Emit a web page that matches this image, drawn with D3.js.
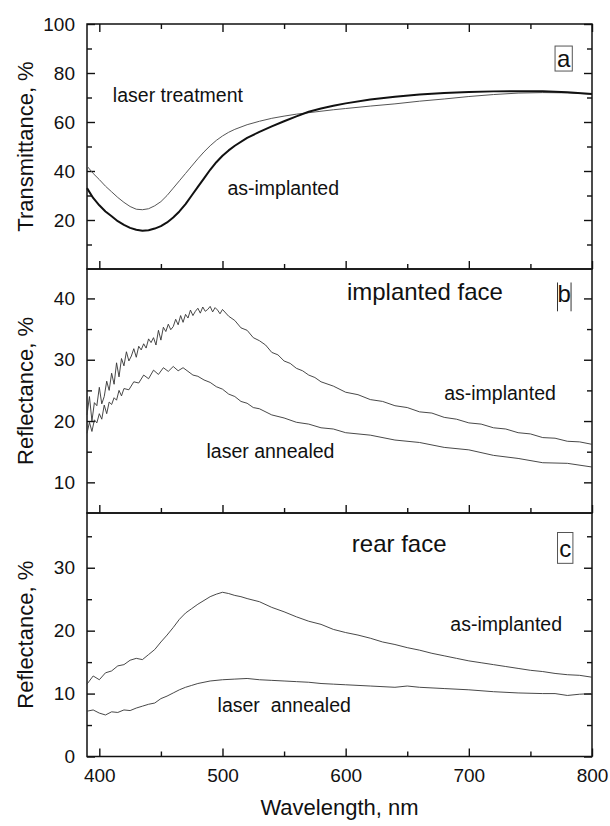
<!DOCTYPE html>
<html>
<head>
<meta charset="utf-8">
<script src="https://cdn.jsdelivr.net/npm/d3@7"></script>
<style>
  body { margin: 0; background: #fff; }
  svg text { font-family: "Liberation Sans", Arial, sans-serif; fill: #111; }
</style>
</head>
<body>
<script>
// ---- data ----
// panel a, transmittance
var wlA = [390, 395, 400, 405, 410, 415, 420, 425, 430, 435, 440, 445, 450, 455, 460, 465, 470, 475, 480, 485, 490, 495, 500, 505, 510, 520, 530, 540, 550, 560, 570, 580, 590, 600, 620, 640, 660, 680, 700, 720, 740, 760, 780, 800];
var tAsImpl = [33, 29, 26, 23.5, 21.5, 19.5, 18, 16.8, 16, 15.6, 15.8, 16.5, 17.5, 19, 21, 23.5, 26.5, 30, 33.5, 37, 40.5, 43.6, 46.2, 48.4, 50.3, 53.5, 56, 58.2, 60.3, 62.3, 64.2, 65.5, 66.6, 67.6, 69.2, 70.3, 71.2, 71.8, 72.2, 72.5, 72.6, 72.6, 72.1, 71.4];
var tLaser = [42, 39, 36.5, 33.8, 31.5, 29.2, 27.2, 25.5, 24.4, 24.2, 24.6, 25.8, 27.5, 30, 33, 36, 39, 42, 45, 47.8, 50.3, 52.5, 54.3, 55.8, 57, 58.9, 60.3, 61.5, 62.4, 63.2, 63.8, 64.4, 65, 65.5, 66.5, 67.4, 68.5, 69.4, 70.4, 71.2, 71.8, 72, 71.9, 71.4];

// panel b, reflectance of the implanted face
var wlB1 = [390, 392, 394, 396, 398, 400, 402, 404, 406, 408, 410, 412, 414, 416, 418, 420, 422, 424, 426, 428, 430, 432, 434, 436, 438, 440, 442, 444, 446, 448, 450, 452, 454, 456, 458, 460, 462, 464, 466, 468, 470, 472, 474, 476, 478, 480, 482, 484, 486, 488, 490, 492, 494, 496, 498, 500, 505, 510, 515, 520, 525, 530, 535, 540, 545, 550, 555, 560, 565, 570, 575, 580, 590, 600, 610, 620, 630, 640, 650, 660, 670, 680, 690, 700, 710, 720, 730, 740, 750, 760, 770, 780, 790, 800];
var rAsImplB = [21, 24, 20, 23, 22.5, 25.5, 22.8, 24, 26.5, 25, 27.8, 26, 29.5, 27.2, 30.2, 29, 31.3, 29.8, 30.6, 31.8, 30.4, 32.2, 31.6, 32.6, 31.9, 33.4, 32.8, 33.6, 32.4, 34.8, 33.2, 35.3, 34.6, 35.8, 34.9, 35.4, 36.6, 35.7, 37.2, 36.1, 37.4, 36.8, 38.1, 37.2, 37.9, 38.4, 37.6, 38.6, 37.9, 38.2, 38.7, 37.8, 38.5, 38.1, 37.5, 38.2, 37.1, 36.4, 35.2, 34.8, 33.6, 33.1, 32.4, 31.2, 30.8, 29.8, 29.4, 28.6, 28.2, 27.5, 27.1, 26.4, 25.7, 24.7, 24.3, 23.5, 23.2, 22.5, 22.2, 21.5, 21.3, 20.6, 20.3, 19.7, 19.5, 18.9, 18.7, 18.1, 17.9, 17.3, 17.2, 16.7, 16.6, 16.2];
var wlB2 = [390, 392, 394, 396, 398, 400, 402, 404, 406, 408, 410, 412, 414, 416, 418, 420, 424, 428, 432, 436, 440, 444, 448, 452, 456, 460, 464, 468, 472, 476, 480, 485, 490, 495, 500, 505, 510, 515, 520, 525, 530, 540, 550, 560, 570, 580, 590, 600, 620, 640, 660, 680, 700, 720, 740, 760, 780, 800];
var rLaserB = [18, 19.8, 18.3, 20.2, 19.7, 21.2, 20.3, 22.6, 21.2, 23.1, 22.7, 23.8, 23.4, 25, 24.1, 25.3, 25.1, 26.4, 26.2, 27.5, 26.9, 28.3, 27.6, 28.7, 28.1, 28.9, 28.2, 28.7, 28.1, 27.5, 27.3, 26.7, 26.3, 25.6, 25.2, 24.4, 24, 23.2, 22.9, 22.2, 22, 21, 20.5, 19.8, 19.5, 18.9, 18.7, 18.1, 17.7, 16.9, 16.5, 15.7, 15.3, 14.4, 13.9, 13.2, 13.1, 12.5];

// panel c, reflectance of the rear face
var wlC1 = [390, 395, 400, 405, 410, 415, 420, 425, 430, 435, 440, 445, 450, 455, 460, 465, 470, 475, 480, 485, 490, 495, 500, 505, 510, 515, 520, 530, 540, 550, 560, 570, 580, 590, 600, 610, 620, 630, 640, 650, 660, 670, 680, 690, 700, 710, 720, 730, 740, 750, 760, 770, 780, 790, 800];
var rAsImplC = [11.5, 12.8, 12.2, 13.3, 13.6, 14.4, 14.6, 15.3, 15.6, 15.4, 16.2, 17, 18.2, 19.3, 20.5, 21.8, 22.8, 23.5, 24.2, 24.8, 25.4, 25.8, 26.1, 25.9, 25.6, 25.4, 25.1, 24.6, 23.7, 23, 22.2, 21.5, 21, 20.2, 19.7, 19.3, 18.8, 18.2, 17.8, 17.3, 16.9, 16.4, 16, 15.6, 15.2, 14.9, 14.6, 14.3, 14, 13.7, 13.5, 13.2, 13, 12.9, 12.6];
var wlC2 = [390, 395, 400, 405, 410, 415, 420, 425, 430, 435, 440, 445, 450, 455, 460, 465, 470, 475, 480, 490, 500, 510, 520, 530, 540, 550, 560, 570, 580, 590, 600, 620, 640, 650, 660, 680, 700, 720, 740, 760, 770, 780, 790, 800];
var rLaserC = [7.2, 7.4, 6.9, 6.6, 7.1, 7, 7.4, 7.3, 7.7, 8, 8.3, 8.5, 9.2, 9.6, 10.1, 10.6, 11, 11.3, 11.6, 12, 12.2, 12.3, 12.4, 12.2, 12.1, 12, 11.9, 11.8, 11.6, 11.5, 11.4, 11.2, 11, 11.2, 11, 10.8, 10.6, 10.3, 10.1, 10, 10, 9.7, 9.9, 10];

// ticks
var xMajor = [400, 500, 600, 700, 800];
var xMinor = [450, 550, 650, 750];
var yMajorA = [20, 40, 60, 80, 100], yMinorA = [10, 30, 50, 70, 90];
var yMajorB = [10, 20, 30, 40], yMinorB = [15, 25, 35];
var yMajorC = [0, 10, 20, 30], yMinorC = [5, 15, 25, 35];

// ---- layout ----
var width = 610, height = 826;
var left = 87, right = 592;

var svg = d3.select("body").append("svg")
    .attr("width", width)
    .attr("height", height);

var x = d3.scaleLinear().domain([390, 800]).range([left, right]);

var panels = [
  { top: 24,  bottom: 269,   y: d3.scaleLinear().domain([0, 100]).range([269, 24]),    major: yMajorA, minor: yMinorA, title: "Transmittance, %" },
  { top: 269, bottom: 513,   y: d3.scaleLinear().domain([5, 44.8]).range([513, 269]),  major: yMajorB, minor: yMinorB, title: "Reflectance, %" },
  { top: 513, bottom: 756.5, y: d3.scaleLinear().domain([0, 38.7]).range([756.5, 513]), major: yMajorC, minor: yMinorC, title: "Reflectance, %" }
];

function styleAxis(g) {
  g.select(".domain").remove();
  g.selectAll("line").attr("stroke", "#111").attr("stroke-width", 1.4);
  g.selectAll("text").attr("font-size", 19).attr("fill", "#111")
    .style("font-family", "'Liberation Sans', Arial, sans-serif");
}

panels.forEach(function(p, i) {
  var g = svg.append("g");

  // left, major + minor (ticks pointing in)
  g.append("g").attr("transform", "translate(" + left + ",0)")
    .call(d3.axisLeft(p.y).tickValues(p.major).tickSize(-8).tickPadding(12).tickFormat(d3.format("d")))
    .call(styleAxis);
  g.append("g").attr("transform", "translate(" + left + ",0)")
    .call(d3.axisLeft(p.y).tickValues(p.minor).tickSize(-5).tickFormat(""))
    .call(styleAxis);
  // right
  g.append("g").attr("transform", "translate(" + right + ",0)")
    .call(d3.axisRight(p.y).tickValues(p.major).tickSize(-8).tickFormat(""))
    .call(styleAxis);
  g.append("g").attr("transform", "translate(" + right + ",0)")
    .call(d3.axisRight(p.y).tickValues(p.minor).tickSize(-5).tickFormat(""))
    .call(styleAxis);
  // bottom
  g.append("g").attr("transform", "translate(0," + p.bottom + ")")
    .call(d3.axisBottom(x).tickValues(xMajor).tickSize(-8).tickPadding(12)
      .tickFormat(i == 2 ? d3.format("d") : ""))
    .call(styleAxis);
  g.append("g").attr("transform", "translate(0," + p.bottom + ")")
    .call(d3.axisBottom(x).tickValues(xMinor).tickSize(-5).tickFormat(""))
    .call(styleAxis);
  // top only on the first panel
  if (i == 0) {
    g.append("g").attr("transform", "translate(0," + p.top + ")")
      .call(d3.axisTop(x).tickValues(xMajor).tickSize(-8).tickFormat(""))
      .call(styleAxis);
    g.append("g").attr("transform", "translate(0," + p.top + ")")
      .call(d3.axisTop(x).tickValues(xMinor).tickSize(-5).tickFormat(""))
      .call(styleAxis);
  }

  // frame
  g.append("rect")
    .attr("x", left).attr("y", p.top)
    .attr("width", right - left).attr("height", p.bottom - p.top)
    .attr("fill", "none").attr("stroke", "#111").attr("stroke-width", 1.5);

  // y title
  g.append("text")
    .attr("transform", "translate(33," + ((p.top + p.bottom) / 2) + ") rotate(-90)")
    .attr("text-anchor", "middle")
    .attr("font-size", 22)
    .text(p.title);
});

// ---- curves ----
function drawCurve(p, xs, ys, w, col) {
  var line = d3.line()
    .x(function(d) { return x(d[0]); })
    .y(function(d) { return p.y(d[1]); });
  svg.append("path")
    .datum(d3.zip(xs, ys))
    .attr("fill", "none")
    .attr("stroke", col)
    .attr("stroke-width", w)
    .attr("stroke-linejoin", "round")
    .attr("d", line);
}

drawCurve(panels[0], wlA, tLaser, 1, "#555");
drawCurve(panels[0], wlA, tAsImpl, 2, "#111");
drawCurve(panels[1], wlB1, rAsImplB, 0.9, "#333");
drawCurve(panels[1], wlB2, rLaserB, 0.9, "#333");
drawCurve(panels[2], wlC1, rAsImplC, 0.9, "#333");
drawCurve(panels[2], wlC2, rLaserC, 0.9, "#333");

// ---- annotations ----
function label(p, wl, val, txt, size) {
  svg.append("text")
    .attr("x", x(wl)).attr("y", p.y(val))
    .attr("font-size", size)
    .attr("xml:space", "preserve")
    .style("white-space", "pre")
    .text(txt);
}

label(panels[0], 411, 68, "laser treatment", 19.5);
label(panels[0], 504, 30.4, "as-implanted", 19.5);
label(panels[1], 601, 39.7, "implanted face", 24);
label(panels[1], 680, 23.4, "as-implanted", 19.5);
label(panels[1], 487, 13.9, "laser annealed", 19.5);
label(panels[2], 605, 32.5, "rear face", 24);
label(panels[2], 685, 19.9, "as-implanted", 19.5);
label(panels[2], 496, 7.0, "laser  annealed", 19.5);

// panel letters
function letterBox(p, wl0, wl1, v0, v1, txt, vBase, bars) {
  var x0 = x(wl0), x1 = x(wl1), y0 = p.y(v0), y1 = p.y(v1);
  if (bars) {
    svg.append("line").attr("x1", x0).attr("x2", x0).attr("y1", y0).attr("y2", y1)
      .attr("stroke", "#333").attr("stroke-width", 1);
    svg.append("line").attr("x1", x1).attr("x2", x1).attr("y1", y0).attr("y2", y1)
      .attr("stroke", "#333").attr("stroke-width", 1);
  } else {
    svg.append("rect").attr("x", x0).attr("y", y0)
      .attr("width", x1 - x0).attr("height", y1 - y0)
      .attr("fill", "none").attr("stroke", "#555").attr("stroke-width", 1);
  }
  svg.append("text")
    .attr("x", (x0 + x1) / 2).attr("y", p.y(vBase))
    .attr("text-anchor", "middle")
    .attr("font-size", 24)
    .text(txt);
}

letterBox(panels[0], 770, 784, 91, 80.8, "a", 82.3, false);
letterBox(panels[1], 772, 783, 42.6, 37.9, "b", 39.4, true);
letterBox(panels[2], 772, 784.5, 35.6, 30.7, "c", 31.7, false);

// x title
svg.append("text")
  .attr("x", (left + right) / 2).attr("y", 815)
  .attr("text-anchor", "middle")
  .attr("font-size", 22)
  .text("Wavelength, nm");
</script>
</body>
</html>
